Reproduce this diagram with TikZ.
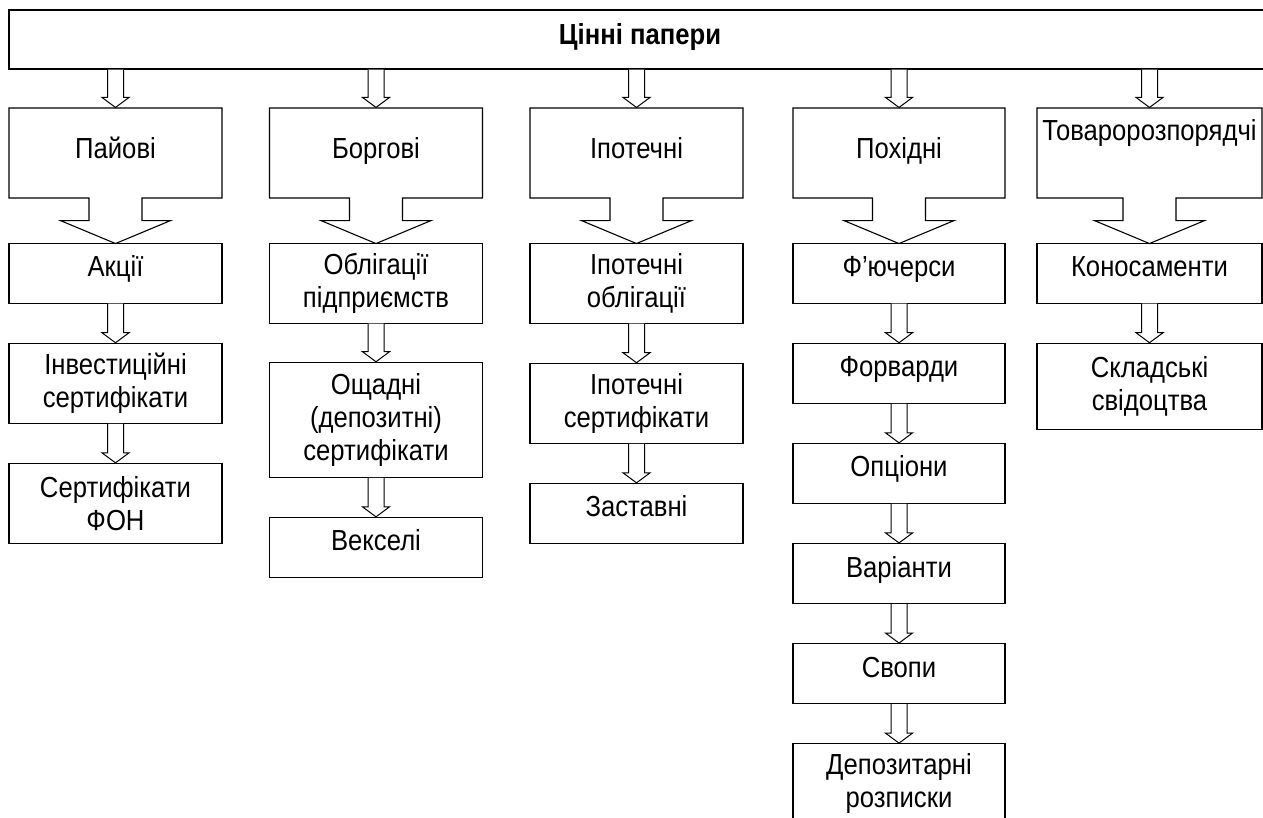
\documentclass[tikz,border=0pt]{standalone}
\usepackage{fontspec}
\setmainfont{Liberation Sans}[FakeStretch=0.885]
\usetikzlibrary{calc,positioning,shapes.arrows}

\newcommand{\hollowarrow}[2]{%
  \draw[hollow] let \p1=(#1.south), \p2=(#2.north) in
    (\x2-8pt,\y1) -- (\x2-8pt,\y2+10pt) -- (\x2-13.5pt,\y2+10pt)
    -- (\x2,\y2) -- (\x2+13.5pt,\y2+10pt) -- (\x2+8pt,\y2+10pt)
    -- (\x2+8pt,\y1);}

\begin{document}
\begin{tikzpicture}[
    x=1pt, y=-1pt,
    node distance=39pt,
    every node/.style={font=\fontsize{29}{33}\selectfont},
    box/.style={draw, line width=1.1pt, minimum width=213pt,
      minimum height=60pt, inner sep=2pt, align=center},
    one/.style={text height=19pt, text depth=12pt},
    two/.style={minimum height=80pt},
    kind/.style={box, arrow box, minimum height=90pt,
      arrow box arrows={south:45pt}, arrow box shaft width=53pt,
      arrow box head extend=28.5pt, arrow box tip angle=134.7,
      text height=19pt, text depth=7pt},
    hollow/.style={draw, line width=1pt, fill=white}
  ]
  \fill[white] (0,0) rectangle (1263,818);
  \useasboundingbox (0,0) rectangle (1263,818);

  \node[box, minimum width=1262pt, minimum height=59pt, text height=19pt,
    text depth=9pt, font=\fontsize{29}{33}\selectfont\bfseries]
    (papery) at (640,39.5) {Цінні папери};

  % види цінних паперів
  \node[kind] (paiovi) at (115.5,153) {Пайові};
  \node[kind] (borgovi) at (376,153) {Боргові};
  \node[kind] (ipotechni) at (636.5,153) {Іпотечні};
  \node[kind, minimum width=212pt] (pokhidni) at (899,153) {Похідні};
  \node[kind, minimum width=225pt, text depth=44pt] (tovarni) at (1149.5,153) {Товаророзпорядчі};

  % пайові
  \node[box, one] (akcii) [below=-1.5pt of paiovi] {Акції};
  \node[box, two] (invest) [below=of akcii] {Інвестиційні\\сертифікати};
  \node[box, two] (fon) [below=of invest] {Сертифікати\\ФОН};

  % боргові
  \node[box, two] (oblig) [below=-1.5pt of borgovi] {Облігації\\підприємств};
  \node[box, minimum height=115pt] (oshchadni) [below=38pt of oblig] {Ощадні\\(депозитні)\\сертифікати};
  \node[box, one] (vekseli) [below=of oshchadni] {Векселі};

  % іпотечні
  \node[box, two] (ipoblig) [below=-1.5pt of ipotechni] {Іпотечні\\облігації};
  \node[box, two] (iposert) [below=of ipoblig] {Іпотечні\\сертифікати};
  \node[box, one] (zastavni) [below=of iposert] {Заставні};

  % похідні
  \node[box, one, minimum width=212pt] (futures) [below=-1.5pt of pokhidni] {Ф’ючерси};
  \node[box, one, minimum width=212pt] (forwardy) [below=of futures] {Форварди};
  \node[box, one, minimum width=212pt] (opciony) [below=of forwardy] {Опціони};
  \node[box, one, minimum width=212pt] (varianty) [below=of opciony] {Варіанти};
  \node[box, one, minimum width=212pt] (svopy) [below=of varianty] {Свопи};
  \node[box, two, minimum width=212pt] (depozyt) [below=of svopy] {Депозитарні\\розписки};

  % товаророзпорядчі
  \node[box, one, minimum width=225pt] (konosamenty) [below=-1.5pt of tovarni] {Коносаменти};
  \node[box, minimum width=225pt, minimum height=86pt] (skladski) [below=of konosamenty] {Складські\\свідоцтва};

  \foreach \a/\b in {papery/paiovi, papery/borgovi, papery/ipotechni,
      papery/pokhidni, papery/tovarni, akcii/invest, invest/fon,
      oblig/oshchadni, oshchadni/vekseli, ipoblig/iposert, iposert/zastavni,
      futures/forwardy, forwardy/opciony, opciony/varianty, varianty/svopy,
      svopy/depozyt, konosamenty/skladski}
    \hollowarrow{\a}{\b};
\end{tikzpicture}
\end{document}
